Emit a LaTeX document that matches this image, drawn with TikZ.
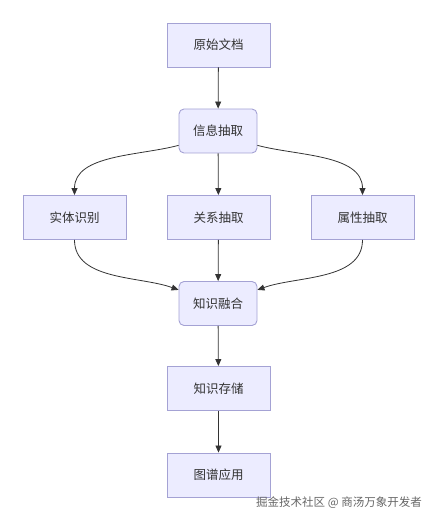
\documentclass[tikz,border=0pt]{standalone}
\usepackage{fontspec}
\setmainfont{Noto Sans CJK SC}
\usepackage{tikz}
\usetikzlibrary{positioning,arrows.meta}
\definecolor{boxfill}{HTML}{ECECFF}
\definecolor{boxline}{HTML}{A4A2D4}
\definecolor{ink}{HTML}{333333}

\begin{document}
\begin{tikzpicture}[x=1pt, y=-1pt, >={Triangle[length=7pt,width=6pt]},
    font=\fontsize{12.5}{15}\selectfont, text=ink,
    sq/.style={draw=boxline, fill=boxfill, line width=0.9pt, minimum width=103pt,
               minimum height=44pt, inner sep=0pt},
    rd/.style={sq, rounded corners=5pt, minimum width=78pt},
    arr/.style={->, draw=ink, line width=0.8pt}]
    \useasboundingbox (0,0) rectangle (437,521);
    \node[sq] (doc)   at (218.5,45)    {原始文档};
    \node[rd] (info)  at (218,131)     {信息抽取};
    \node[sq] (ent)   at (74.5,217.5)  {实体识别};
    \node[sq] (rel)   at (218.5,217.5) {关系抽取};
    \node[sq] (attr)  at (362.5,217.5) {属性抽取};
    \node[rd] (fuse)  at (218,303.5)   {知识融合};
    \node[sq] (store) at (218.5,388.5) {知识存储};
    \node[sq] (app)   at (218.5,475)   {图谱应用};

    \draw[arr] (doc) -- (info);
    \draw[arr] (info.200) to[out=195, in=90, looseness=0.9] (ent.north);
    \draw[arr] (info) -- (rel);
    \draw[arr] (info.340) to[out=-15, in=90, looseness=0.9] (attr.north);
    \draw[arr] (ent.south) to[out=-90, in=160, looseness=0.9] (fuse.161);
    \draw[arr] (rel) -- (fuse);
    \draw[arr] (attr.south) to[out=-90, in=20, looseness=0.9] (fuse.19);
    \draw[arr] (fuse) -- (store);
    \draw[arr] (store) -- (app);

    \node[text=black!60, font=\fontsize{11.5}{13}\selectfont] (mark) at (339,503)
      {掘金技术社区 @ 商汤万象开发者};
\end{tikzpicture}
\end{document}
